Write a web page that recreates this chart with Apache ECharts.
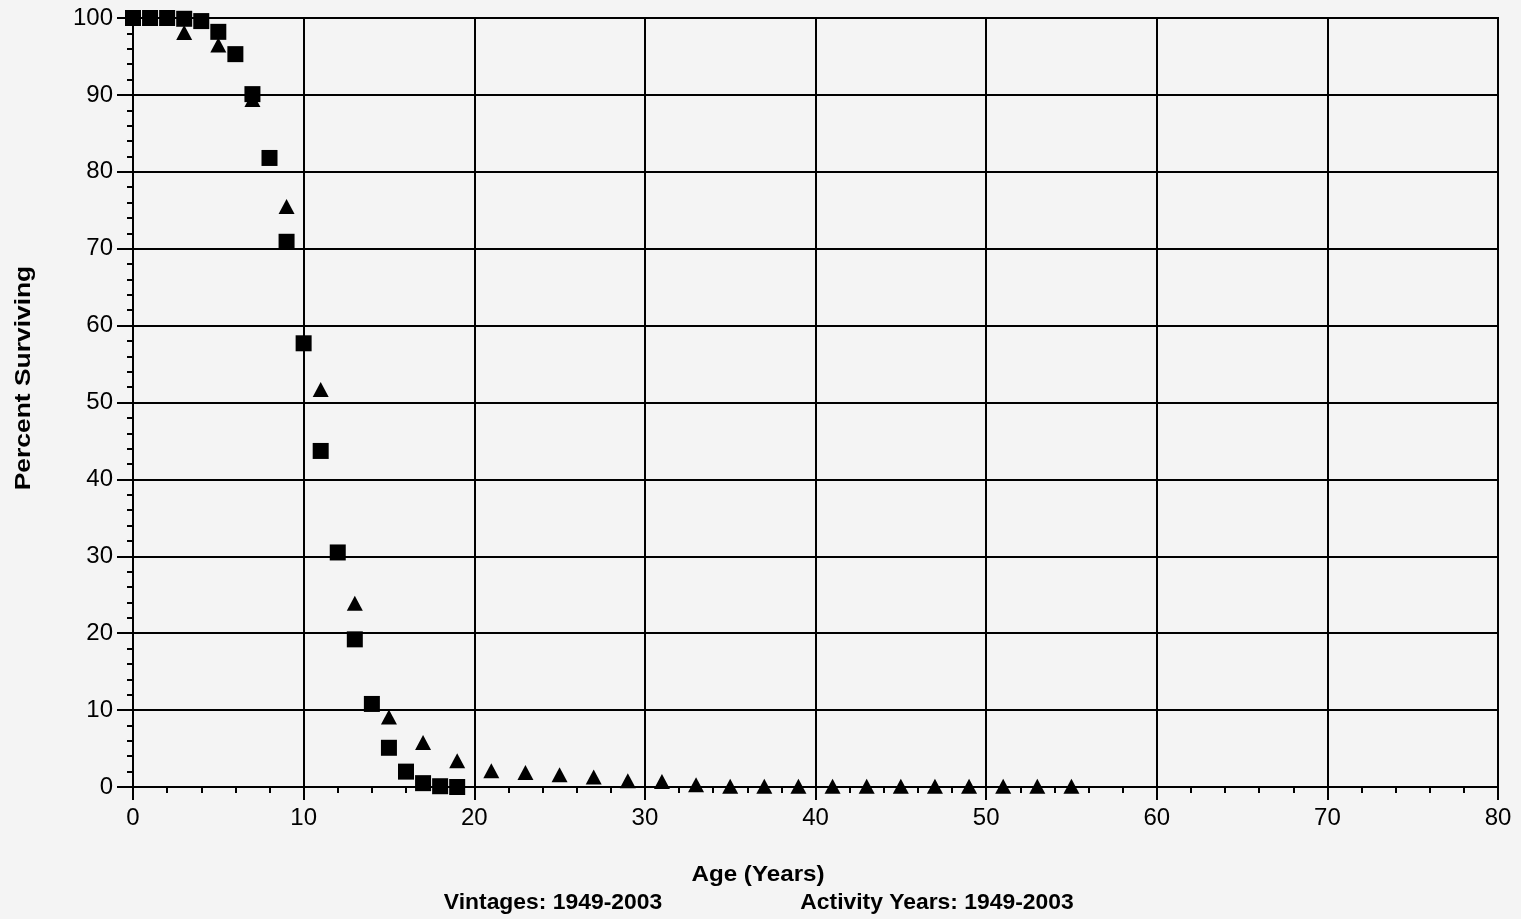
<!DOCTYPE html>
<html>
<head>
<meta charset="utf-8">
<title>Percent Surviving by Age</title>
<script src="https://cdn.jsdelivr.net/npm/echarts@6/dist/echarts.min.js"></script>
<style>
  html, body { margin: 0; padding: 0; background: #f4f4f4; }
  #chart { width: 1521px; height: 919px; }
</style>
</head>
<body>
<div id="chart"></div>
<script>
// Survival curve: percent of units still active at each age (years)
const squareAges = [0, 1, 2, 3, 4, 5, 6, 7, 8, 9, 10, 11, 12, 13, 14, 15, 16, 17, 18, 19];
const squareValues = [100, 100, 100, 99.9, 99.6, 98.2, 95.3, 90.1, 81.8, 70.9, 57.7, 43.7, 30.5, 19.2, 10.8, 5.1, 2.0, 0.5, 0.1, 0.0];

const triangleAges = [1, 3, 5, 7, 9, 11, 13, 15, 17, 19, 21, 23, 25, 27, 29, 31, 33, 35, 37, 39, 41, 43, 45, 47, 49, 51, 53, 55];
const triangleValues = [100, 98.1, 96.5, 89.4, 75.5, 51.7, 23.9, 9.1, 5.8, 3.4, 2.1, 1.9, 1.6, 1.3, 0.8, 0.7, 0.3, 0.1, 0.1, 0.1, 0.1, 0.1, 0.1, 0.1, 0.1, 0.1, 0.1, 0.1];

const xTicks = { min: 0, max: 80, interval: 10 };
const yTicks = { min: 0, max: 100, interval: 10 };

const pairs = (xs, ys) => xs.map((x, i) => [x, ys[i]]);

const chart = echarts.init(document.getElementById('chart'), null, { renderer: 'canvas' });

const labelFont = { color: '#000', fontSize: 24, fontFamily: 'Liberation Sans, Arial, sans-serif' };
const titleFont = { fill: '#000', fontSize: 22, fontWeight: 'bold', fontFamily: 'Liberation Sans, Arial, sans-serif' };

chart.setOption({
  backgroundColor: '#f4f4f4',
  animation: false,
  grid: {
    left: 133, right: 23, top: 18, bottom: 132,
    show: true, borderColor: '#000', borderWidth: 2, backgroundColor: 'transparent'
  },
  xAxis: {
    type: 'value',
    min: xTicks.min, max: xTicks.max, interval: xTicks.interval,
    axisLine: { show: true, onZero: false, lineStyle: { color: '#000', width: 2 } },
    axisTick: { show: true, inside: false, length: 13, lineStyle: { color: '#000', width: 2 } },
    minorTick: { show: true, splitNumber: 5, length: 6, lineStyle: { color: '#000', width: 2 } },
    splitLine: { show: true, lineStyle: { color: '#000', width: 2 } },
    axisLabel: Object.assign({ margin: 19 }, labelFont)
  },
  yAxis: {
    type: 'value',
    min: yTicks.min, max: yTicks.max, interval: yTicks.interval,
    axisLine: { show: true, onZero: false, lineStyle: { color: '#000', width: 2 } },
    axisTick: { show: true, inside: false, length: 16, lineStyle: { color: '#000', width: 2 } },
    minorTick: { show: true, splitNumber: 5, length: 6, lineStyle: { color: '#000', width: 2 } },
    splitLine: { show: true, lineStyle: { color: '#000', width: 2 } },
    axisLabel: Object.assign({ margin: 20 }, labelFont)
  },
  series: [
    {
      name: 'Triangles',
      type: 'scatter',
      symbol: 'triangle',
      symbolSize: [16, 15],
      itemStyle: { color: '#000', opacity: 1 },
      data: pairs(triangleAges, triangleValues),
      z: 3
    },
    {
      name: 'Squares',
      type: 'scatter',
      symbol: 'rect',
      symbolSize: 16,
      itemStyle: { color: '#000', opacity: 1 },
      data: pairs(squareAges, squareValues),
      z: 4
    }
  ],
  graphic: [
    {
      type: 'text', x: 24, y: 378, rotation: Math.PI / 2, scaleX: 1.2,
      style: Object.assign({ text: 'Percent Surviving', align: 'center', verticalAlign: 'middle' }, titleFont)
    },
    {
      type: 'text', x: 758, y: 875, scaleX: 1.1,
      style: Object.assign({ text: 'Age (Years)', align: 'center', verticalAlign: 'middle' }, titleFont)
    },
    {
      type: 'text', x: 553, y: 903, scaleX: 1.04,
      style: Object.assign({ text: 'Vintages: 1949-2003', align: 'center', verticalAlign: 'middle' }, titleFont)
    },
    {
      type: 'text', x: 937, y: 903, scaleX: 1.04,
      style: Object.assign({ text: 'Activity Years: 1949-2003', align: 'center', verticalAlign: 'middle' }, titleFont)
    }
  ]
});
</script>
</body>
</html>
